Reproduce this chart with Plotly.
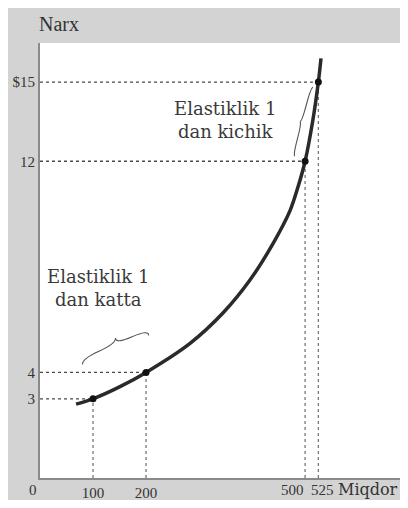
import plotly.graph_objects as go

# Demand curve
curve_q = [68, 100, 150, 200, 283, 345, 396, 440, 472, 487, 500, 515, 525, 530]
curve_p = [2.8, 3, 3.45, 4, 5.1, 6.25, 7.5, 8.9, 10.15, 11.05, 12, 13.6, 15, 15.9]

# Marked points
point_q = [100, 200, 500, 525]
point_p = [3, 4, 12, 15]

# Tick labels
x_ticks = [100, 200]
x_tick_text = ["100", "200"]
x_close_ticks = [500, 525]          # labelled beside each other
x_close_text = ["500", "525"]
y_ticks = [3, 4, 12, 15]
y_tick_text = ["3", "4", "12", "$15"]

# Labels
label_high = "Elastiklik 1<br>dan katta"
label_low = "Elastiklik 1<br>dan kichik"

SERIF = "Liberation Serif, Times New Roman, serif"
WIDE_SERIF = "DejaVu Serif, serif"
TXT = "#343434"

fig = go.Figure()

# guide lines built from marked points
hx, hy, vx, vy = [], [], [], []
for q, p in zip(point_q, point_p):
    hx += [0, q, None]
    hy += [p, p, None]
    vx += [q, q, None]
    vy += [0, p, None]

fig.add_trace(go.Scatter(x=hx, y=hy, mode="lines",
                         line=dict(color="#4a4a4a", width=1.3, dash="dot"),
                         hoverinfo="skip", showlegend=False))
fig.add_trace(go.Scatter(x=vx, y=vy, mode="lines",
                         line=dict(color="#777777", width=1.3, dash="dot"),
                         hoverinfo="skip", showlegend=False))

fig.add_trace(go.Scatter(x=curve_q, y=curve_p, mode="lines",
                         line=dict(color="#2a2a2a", width=3.5, shape="spline", smoothing=0.8),
                         showlegend=False))
fig.add_trace(go.Scatter(x=point_q, y=point_p, mode="markers",
                         marker=dict(color="#111111", size=7),
                         showlegend=False))


def brace_path(x0, y0, x1, y1, dx, dy):
    """Curly brace from (x0,y0) to (x1,y1), tip offset by (dx,dy)."""
    mx, my = (x0 + x1) / 2, (y0 + y1) / 2
    q1x, q1y = x0 + (mx - x0) * 0.5, y0 + (my - y0) * 0.5
    q3x, q3y = mx + (x1 - mx) * 0.5, my + (y1 - my) * 0.5
    h = 0.5
    return (f"M {x0},{y0} Q {x0 + dx*h},{y0 + dy*h} {q1x + dx*h},{q1y + dy*h} "
            f"T {mx + dx},{my + dy} "
            f"M {mx + dx},{my + dy} Q {mx + dx*h},{my + dy*h} {q3x + dx*h},{q3y + dy*h} "
            f"T {x1},{y1}")


# brace above the lower segment (100->200)
fig.add_shape(type="path",
              path=brace_path(point_q[0] - 20, point_p[0] + 1.3,
                              point_q[1] + 5, point_p[1] + 1.4, 0, 0.45),
              line=dict(color="#555555", width=1.1), xref="x", yref="y")
# brace left of the upper segment (500->525)
fig.add_shape(type="path",
              path=brace_path(point_q[2] - 19, point_p[2] + 0.2,
                              point_q[3] - 10, point_p[3] - 0.2, -8, 0),
              line=dict(color="#555555", width=1.1), xref="x", yref="y")

fig.add_annotation(x=110, y=7.2, text=label_high, showarrow=False,
                   font=dict(family=WIDE_SERIF, size=18, color="#3a3a3a"), align="center")
fig.add_annotation(x=348, y=13.55, text=label_low, showarrow=False,
                   font=dict(family=WIDE_SERIF, size=18, color="#3a3a3a"), align="center")

# tick labels for the two close ticks, set side by side
for val, txt, anchor, shift in zip(x_close_ticks, x_close_text, ["right", "left"], [1, -9]):
    fig.add_annotation(x=val, y=0, xref="x", yref="paper", text=txt, showarrow=False,
                       xanchor=anchor, yanchor="top", xshift=shift, yshift=-2,
                       font=dict(family=SERIF, size=15, color=TXT))

fig.add_annotation(x=0, y=0, text="0", showarrow=False, xref="x", yref="paper",
                   xshift=-7, yanchor="top", yshift=-2,
                   font=dict(family=SERIF, size=15, color=TXT))
fig.add_annotation(x=1, y=0, xref="paper", yref="paper", text="Miqdor",
                   showarrow=False, xanchor="right", yanchor="top", xshift=0, yshift=0,
                   font=dict(family=WIDE_SERIF, size=16, color="#333333"))
fig.add_annotation(x=0, y=1, xref="paper", yref="paper", text="Narx",
                   showarrow=False, xanchor="left", yanchor="bottom", xshift=-3, yshift=6,
                   font=dict(family=SERIF, size=20, color="#333333"))

fig.update_xaxes(range=[0, 679], tickvals=x_ticks, ticktext=x_tick_text,
                 showgrid=False, zeroline=False, showline=True, linecolor="#8a8a8a",
                 linewidth=2, ticks="", tickangle=0, automargin=False,
                 tickfont=dict(family=SERIF, size=15, color=TXT))
fig.update_yaxes(range=[0, 16.48], tickvals=y_ticks, ticktext=y_tick_text,
                 showgrid=False, zeroline=False, showline=True, linecolor="#8a8a8a",
                 linewidth=2, ticks="", automargin=False,
                 tickfont=dict(family=SERIF, size=15, color=TXT))

fig.update_layout(width=392, height=492,
                  margin=dict(l=32, r=0, t=35, b=22),
                  paper_bgcolor="#d3d3d3", plot_bgcolor="#ffffff",
                  showlegend=False)

fig.write_html("out.html")
